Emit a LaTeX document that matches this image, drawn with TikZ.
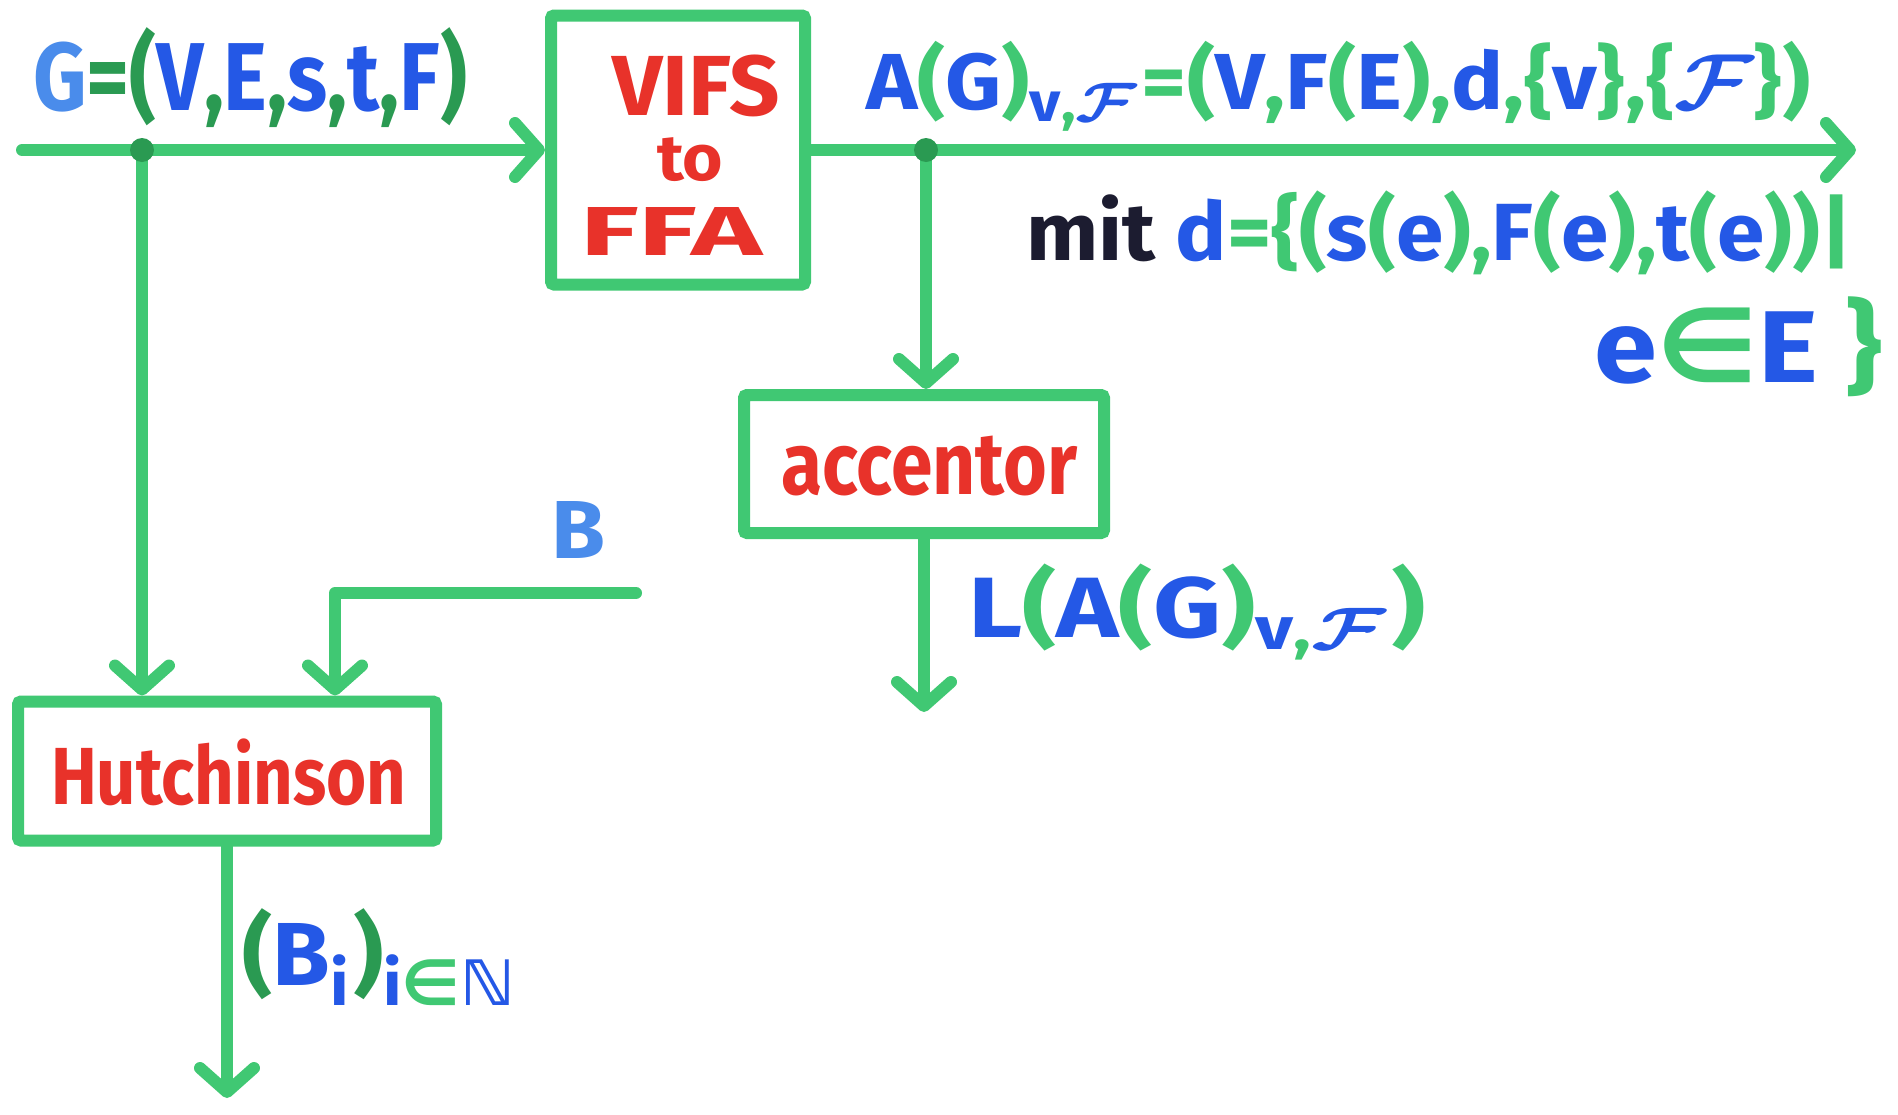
\documentclass[tikz,border=0pt]{standalone}
\usepackage{fontspec}
\usepackage{amsmath,amssymb}
\setmainfont{Fira Sans}
\newfontfamily\djv{DejaVu Sans}
\usetikzlibrary{arrows.meta}
\definecolor{mgreen}{HTML}{40C873}
\definecolor{dgreen}{HTML}{2A9A52}
\definecolor{mblue}{HTML}{2458E6}
\definecolor{lblue}{HTML}{4A8CEB}
\definecolor{mred}{HTML}{E8322A}
\definecolor{ink}{HTML}{1C1C30}
\newcommand{\gr}[1]{{\color{mgreen}#1}}
\newcommand{\dg}[1]{{\color{dgreen}#1}}
\newcommand{\fitbox}[3]{\resizebox*{#1pt}{#2pt}{\bfseries #3}}
\newcommand{\scrF}{$\boldsymbol{\mathcal F}$}
\newcommand{\elem}{{\djv\bfseries ∈}}
\begin{document}
\begin{tikzpicture}[x=1pt,y=-1pt,
  wire/.style={draw=mgreen,line width=12pt,line cap=round,line join=round},
  arr/.style={wire,-{Straight Barb[length=24pt,width=54pt,round]}},
  box/.style={draw=mgreen,line width=12pt,inner sep=0pt,outer sep=6pt,rounded corners=3pt},
  lbl/.style={inner sep=0pt,outer sep=0pt,anchor=west},
  dot/.style={circle,fill=dgreen,inner sep=0pt,minimum size=24pt}]
\useasboundingbox (0,0) rectangle (1898,1114);
\fill[white] (0,0) rectangle (1898,1114);

% boxes
\node[box,minimum width=254pt,minimum height=269pt] (vifs) at (678,150) {};
\node[box,minimum width=360pt,minimum height=138pt] (acc) at (924,464) {};
\node[box,minimum width=418pt,minimum height=139pt] (hut) at (227,771) {};

% box texts
\node[lbl] (tvifs) at (612,86) {\fitbox{168}{62}{\color{mred}VIFS}};
\node[lbl] (tto) at (657,160) {\fitbox{66}{44}{\color{mred}to}};
\node[lbl] (tffa) at (580,231) {\fitbox{182}{48}{\color{mred}FFA}};
\node[lbl] (tacc) at (781,466) {\fitbox{296}{60}{\color{mred}accentor}};
\node[lbl] (thut) at (51,772) {\fitbox{355}{67}{\color{mred}Hutchinson}};

% coordinates
\coordinate (in) at (22,150);
\coordinate (j1) at (142,150);
\coordinate (j2) at (926,150);
\coordinate (out) at (1856,150);
\coordinate (accout) at (924,712);
\coordinate (bstart) at (636,593);
\coordinate (bturn) at (335,593);
\coordinate (hutout) at (227,1098);

% connectors
\draw[arr] (in) -- (vifs.west);
\draw[arr] (vifs.east) -- (out);
\draw[arr] (j1) -- (j1 |- hut.north);
\draw[arr] (j2) -- (j2 |- acc.north);
\draw[arr] (acc.south) -- (accout);
\draw[arr] (bstart) -- (bturn) -- (bturn |- hut.north);
\draw[arr] (hut.south) -- (hutout);
\node[dot] (d1) at (j1) {};
\node[dot] (d2) at (j2) {};

% labels
\node[lbl] (lg) at (33,78) {\fitbox{434}{100}{\color{mblue}{\color{lblue}G}\dg{=(}V\dg{,}E\dg{,}s\dg{,}t\dg{,}F\dg{)}}};
\node[lbl] (la) at (866,86) {\fitbox{944}{90}{\color{mblue}A\gr{(}G\gr{)}\textsubscript{v\gr{,}\scrF}\gr{=(}V\gr{,}F\gr{(}E\gr{),}d\gr{,\{}v\gr{\},\{}\scrF\gr{\})}}};
\node[lbl] (lmit) at (1026,233) {\fitbox{826}{84}{{\color{ink}mit} \color{mblue}d\gr{=\{(}s\gr{(}e\gr{),}F\gr{(}e\gr{),}t\gr{(}e\gr{))|}}};
\node[lbl] (le) at (1594,347) {\fitbox{288}{100}{\color{mblue}e\gr{\elem}E\gr{\ \}}}};
\node[lbl] (ll) at (968,612) {\fitbox{458}{97}{\color{mblue}L\gr{(}A\gr{(}G\gr{)}\textsubscript{v\gr{,}\scrF}\gr{)}}};
\node[lbl] (lb) at (551,530) {\fitbox{54}{57}{\color{lblue}B}};
\node[lbl] (lbi) at (242,957) {\fitbox{278}{97}{\color{mblue}\dg{(}B\textsubscript{i}\dg{)}\textsubscript{i\gr{\elem}{\djv\bfseries ℕ}}}};
\end{tikzpicture}
\end{document}
